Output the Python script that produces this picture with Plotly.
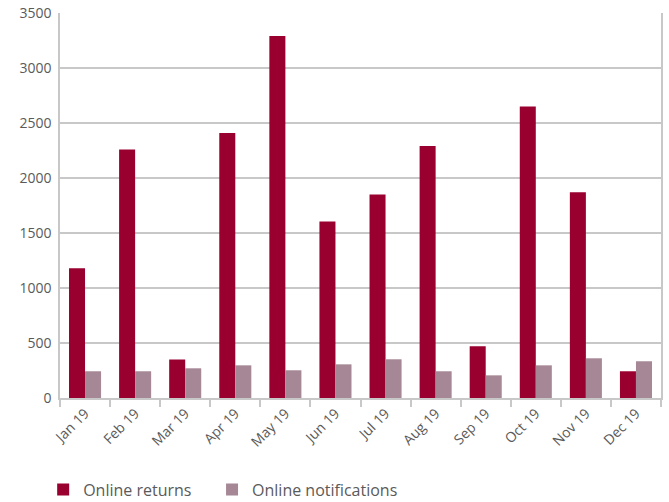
import plotly.graph_objects as go

months = ["Jan 19", "Feb 19", "Mar 19", "Apr 19", "May 19", "Jun 19",
          "Jul 19", "Aug 19", "Sep 19", "Oct 19", "Nov 19", "Dec 19"]
online_returns = [1180, 2260, 350, 2410, 3290, 1605, 1850, 2290, 470, 2650, 1870, 243]
online_notifications = [243, 243, 270, 297, 252, 306, 352, 243, 206, 297, 361, 334]
y_ticks = [0, 500, 1000, 1500, 2000, 2500, 3000, 3500]

FONT = "Open Sans"
TXT = "#5a5a5a"
GRID = "#c8c8c8"

fig = go.Figure()
fig.add_bar(x=months, y=online_returns, name="Online returns",
            marker=dict(color="#990030", line=dict(width=0)), legend="legend")
fig.add_bar(x=months, y=online_notifications, name="Online notifications",
            marker=dict(color="#a58795", line=dict(width=0)), legend="legend2")

leg_common = dict(orientation="h", xanchor="left", y=-0.238, yanchor="middle",
                  font=dict(size=16, color=TXT), itemwidth=30,
                  bgcolor="rgba(0,0,0,0)")

fig.update_layout(
    width=669, height=502,
    margin=dict(l=60, r=8, t=13, b=104, pad=0, autoexpand=False),
    paper_bgcolor="white", plot_bgcolor="white",
    barmode="group", bargap=0.36, bargroupgap=0,
    font=dict(family=FONT, color=TXT, size=13),
    showlegend=True,
    legend=dict(x=-0.028, **leg_common),
    legend2=dict(x=0.253, **leg_common),
)
fig.update_xaxes(
    type="category", tickangle=-45, tickson="boundaries", automargin=False,
    ticks="outside", ticklen=7, tickcolor=GRID, tickwidth=1.5,
    showline=True, linecolor=GRID, linewidth=1.5,
    showgrid=False, tickfont=dict(size=14, color=TXT),
)
fig.update_yaxes(
    range=[0, 3500], tickvals=y_ticks, ticktext=[str(v) for v in y_ticks],
    showgrid=True, gridcolor=GRID, gridwidth=1.5, automargin=False,
    showline=True, linecolor=GRID, linewidth=1.5, mirror=True,
    ticks="", ticklabelstandoff=4, zeroline=False,
    tickfont=dict(size=14, color=TXT),
)

fig.write_html("out.html", config={"displayModeBar": False},
               post_script="document.body.style.margin='0';document.body.style.overflow='hidden';")
